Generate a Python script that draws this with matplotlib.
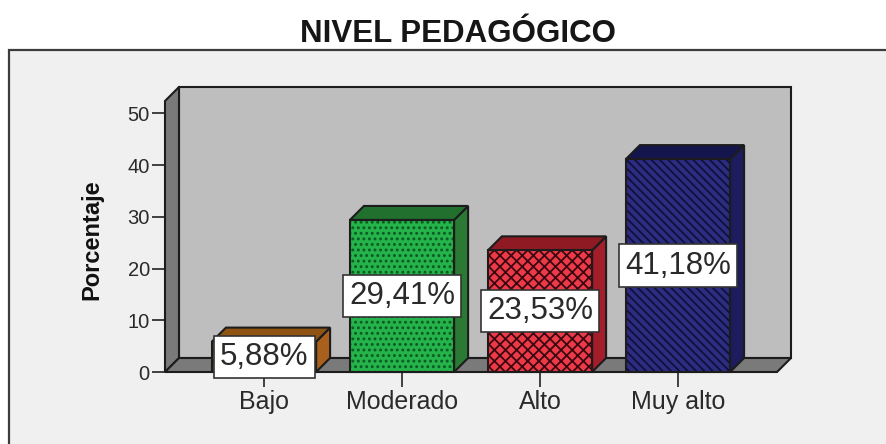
import matplotlib
matplotlib.use("Agg")
import matplotlib.pyplot as plt
from matplotlib.patches import Polygon, Rectangle

plt.rcParams['font.family'] = ['Liberation Sans', 'DejaVu Sans']
plt.rcParams['hatch.linewidth'] = 1.3

categories = ['Bajo', 'Moderado', 'Alto', 'Muy alto']
values = [5.88, 29.41, 23.53, 41.18]
labels = ['5,88%', '29,41%', '23,53%', '41,18%']
yticks = [0, 10, 20, 30, 40, 50]
face_colors = ['#b06a20', '#25b34c', '#ee3a48', '#2c2c80']
hatch_colors = ['#5a3208', '#0c5a20', '#3a0810', '#10103c']
side_colors = ['#a8601c', '#2a7a34', '#a31e2a', '#1c1c5e']
top_colors = ['#8f5412', '#22702e', '#8f1a24', '#15154e']
hatches = ['...', '...', 'xxx', '\\\\\\\\']

W, H = 886, 444
EDGE = '#1c1c1c'
TEXT = '#2a2a2a'
fig = plt.figure(figsize=(W / 100, H / 100), dpi=100, facecolor='white')
fig.add_artist(Rectangle((9 / W, -0.1), 1.1, 1.1 - 50 / H, transform=fig.transFigure,
                         facecolor='#f0f0f0', edgecolor='#3c3c3c', linewidth=1.6, zorder=-1))
fig.text(457.5 / W, 1 - 42 / H, 'NIVEL PEDAGÓGICO', ha='center', va='baseline',
         fontsize=22.5, fontweight='bold', color='#161616')

ax = fig.add_axes([165 / W, 1 - 372 / H, 612 / W, 271 / H])
ax.patch.set_visible(False)
x_per_px = 1 / 138
y_per_px = 50 / 258.5
ax.set_xlim(-99 * x_per_px, 513 * x_per_px)
ax.set_ylim(0, 271 * y_per_px)
dx = 14 * x_per_px
dy = 14 * y_per_px
x0, x1 = ax.get_xlim()
y0, y1 = ax.get_ylim()

def poly(pts, fc, z, **kw):
    ax.add_patch(Polygon(pts, closed=True, facecolor=fc, edgecolor=kw.pop('ec', EDGE),
                         linewidth=kw.pop('lw', 1.5), zorder=z, clip_on=False,
                         joinstyle='miter', **kw))

# walls and floor
poly([(x0 + dx, y0 + dy), (x1 + dx, y0 + dy), (x1 + dx, y1 + dy), (x0 + dx, y1 + dy)], '#bebebe', 1)
poly([(x0, y0), (x0 + dx, y0 + dy), (x0 + dx, y1 + dy), (x0, y1)], '#7a7a7a', 2)
poly([(x0, y0), (x1, y0), (x1 + dx, y0 + dy), (x0 + dx, y0 + dy)], '#7a7a7a', 2)

# bars
bw = 0.755
for i, v in enumerate(values):
    l, r = i - bw / 2, i + bw / 2
    poly([(r, 0), (r + dx, dy), (r + dx, v + dy), (r, v)], side_colors[i], 3)
    poly([(l, v), (r, v), (r + dx, v + dy), (l + dx, v + dy)], top_colors[i], 3)
    ax.bar(i, v, width=bw, color=face_colors[i], edgecolor=hatch_colors[i],
           hatch=hatches[i], linewidth=0, zorder=4, clip_on=False)
    ax.bar(i, v, width=bw, color='none', edgecolor=EDGE, linewidth=1.5, zorder=5, clip_on=False)
    ax.text(i, v / 2, labels[i], ha='center', va='center', fontsize=22.5, color=TEXT, zorder=6,
            bbox=dict(boxstyle='square,pad=0.2', facecolor='white', edgecolor='#333333', linewidth=1.2))

ax.set_xticks(range(len(categories)), categories)
ax.set_yticks(yticks)
for s in ax.spines.values():
    s.set_visible(False)
ax.tick_params(axis='x', length=10.8, width=1.2, color='#222222', labelsize=18,
               labelcolor=TEXT, pad=2)
ax.tick_params(axis='y', length=9.4, width=1.2, color='#222222', labelsize=14.5,
               labelcolor=TEXT, pad=1.5)
ax.set_ylabel('Porcentaje', fontsize=17, fontweight='bold', color='#111111', va='center')
ax.yaxis.set_label_coords(-0.119, 0.487)

fig.savefig('out.png', dpi=100, facecolor='white')
